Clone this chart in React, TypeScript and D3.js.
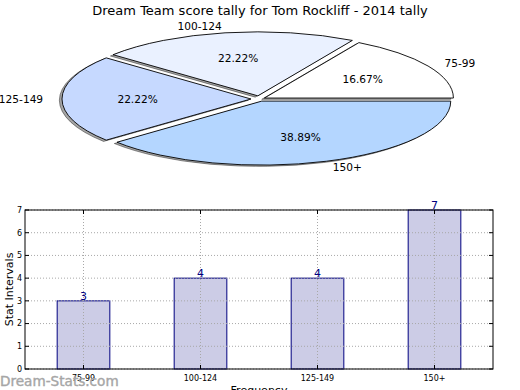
import React from "react";
import * as d3 from "d3";

const categories = ["75-99", "100-124", "125-149", "150+"];
const counts = [3, 4, 4, 7];
const pieColors = ["#ffffff", "#eaf1ff", "#c6d9ff", "#b4d6ff"];
const explode = [0.03, 0.05, 0.045, 0.035];
const yTicks = [0, 1, 2, 3, 4, 5, 6, 7];
const title = "Dream Team score tally for Tom Rockliff - 2014 tally";

const W = 520, H = 390;
const FONT = "DejaVu Sans, sans-serif";

function Pie() {
  const cx = 259.5, cy = 99, rx = 189, ry = 64;
  const total = d3.sum(counts);
  const pie = d3.pie<number>().sort(null).startAngle(0).endAngle(2 * Math.PI);
  const arcs = pie(counts);
  const wedgePath = (ox: number, oy: number, a0: number, a1: number) => {
    const p1 = [ox + rx * Math.cos(a0), oy - ry * Math.sin(a0)];
    const p2 = [ox + rx * Math.cos(a1), oy - ry * Math.sin(a1)];
    const large = a1 - a0 > Math.PI ? 1 : 0;
    return `M${ox},${oy}L${p1[0]},${p1[1]}A${rx},${ry} 0 ${large} 0 ${p2[0]},${p2[1]}Z`;
  };
  const items = arcs.map((a, i) => {
    const a0 = a.startAngle, a1 = a.endAngle;
    const m = (a0 + a1) / 2;
    const ox = cx + explode[i] * rx * Math.cos(m);
    const oy = cy - explode[i] * ry * Math.sin(m);
    return { i, a0, a1, m, ox, oy };
  });
  return (
    <g>
      {items.map((s) => (
        <path key={"sh" + s.i} d={wedgePath(s.ox - 0.014 * rx, s.oy + 0.02 * ry, s.a0, s.a1)}
          fill="#4d4d4d" fillOpacity={0.5} stroke="#000" strokeOpacity={0.4} strokeWidth={1} />
      ))}
      {items.map((s) => (
        <path key={"w" + s.i} d={wedgePath(s.ox, s.oy, s.a0, s.a1)}
          fill={pieColors[s.i]} stroke="#000" strokeWidth={0.9} />
      ))}
      {items.map((s) => {
        const c = Math.cos(s.m);
        const lx = s.ox + 1.1 * rx * c;
        const ly = s.oy - 1.1 * ry * Math.sin(s.m);
        const px = s.ox + 0.6 * rx * c;
        const py = s.oy - 0.6 * ry * Math.sin(s.m);
        return (
          <g key={"t" + s.i} fontFamily={FONT} fontSize={10.6}>
            <text x={lx} y={ly} dy="0.35em" textAnchor={c > 0 ? "start" : "end"}>{categories[s.i]}</text>
            <text x={px} y={py} dy="0.35em" textAnchor="middle">{((counts[s.i] / total) * 100).toFixed(2)}%</text>
          </g>
        );
      })}
    </g>
  );
}

function Bars() {
  const left = 25, right = 493, top = 210, bottom = 369;
  const x = d3.scaleLinear().domain([-0.5, categories.length - 0.5]).range([left, right]);
  const y = d3.scaleLinear().domain([0, 7]).range([bottom, top]);
  const bw = (x(0.45) - x(0));
  return (
    <g fontFamily={FONT}>
      {counts.map((v, i) => (
        <rect key={"b" + i} x={x(i) - bw / 2} y={y(v)} width={bw} height={y(0) - y(v)}
          fill="#ccccE6" stroke="#000080" strokeWidth={1} />
      ))}
      {yTicks.map((t) => (
        <line key={"gy" + t} x1={left} x2={right} y1={y(t)} y2={y(t)} stroke="#a8a8a8" strokeWidth={1} strokeDasharray="1,2" />
      ))}
      {categories.map((c, i) => (
        <line key={"gx" + i} x1={x(i)} x2={x(i)} y1={top} y2={bottom} stroke="#a8a8a8" strokeWidth={1} strokeDasharray="1,2" />
      ))}
      {yTicks.map((t) => (
        <g key={"ty" + t}>
          <line x1={left} x2={left + 4} y1={y(t)} y2={y(t)} stroke="#000" />
          <line x1={right - 4} x2={right} y1={y(t)} y2={y(t)} stroke="#000" />
          <text x={left - 3} y={y(t)} dy="0.35em" textAnchor="end" fontSize={8}>{t}</text>
        </g>
      ))}
      {categories.map((c, i) => (
        <g key={"tx" + i}>
          <line x1={x(i)} x2={x(i)} y1={bottom} y2={bottom - 4} stroke="#000" />
          <line x1={x(i)} x2={x(i)} y1={top} y2={top + 4} stroke="#000" />
          <text x={x(i)} y={bottom + 9} dy="0.35em" textAnchor="middle" fontSize={8}>{c}</text>
        </g>
      ))}
      <rect x={left} y={top} width={right - left} height={bottom - top} fill="none" stroke="#000" strokeWidth={1} />
      {counts.map((v, i) => (
        <text key={"v" + i} x={x(i)} y={y(v) - 1} textAnchor="middle" fontSize={11} fill="#000080">{v}</text>
      ))}
      <text transform={`translate(13,${(top + bottom) / 2}) rotate(-90)`} textAnchor="middle" fontSize={11}>Stat Intervals</text>
      <text x={(left + right) / 2} y={394} textAnchor="middle" fontSize={11}>Frequency</text>
    </g>
  );
}

export default function App() {
  return (
    <svg width={W} height={H} style={{ position: "absolute", left: 0, top: 0, background: "#fff" }}>
      <rect width={W} height={H} fill="#fff" />
      <text x={260} y={15} textAnchor="middle" fontFamily={FONT} fontSize={13}>{title}</text>
      <Pie />
      <Bars />
      <text x={0} y={386} fontFamily={FONT} fontSize={13.6} fill="#a6a6a6" stroke="#a6a6a6" strokeWidth={0.4}>Dream-Stats.com</text>
    </svg>
  );
}
